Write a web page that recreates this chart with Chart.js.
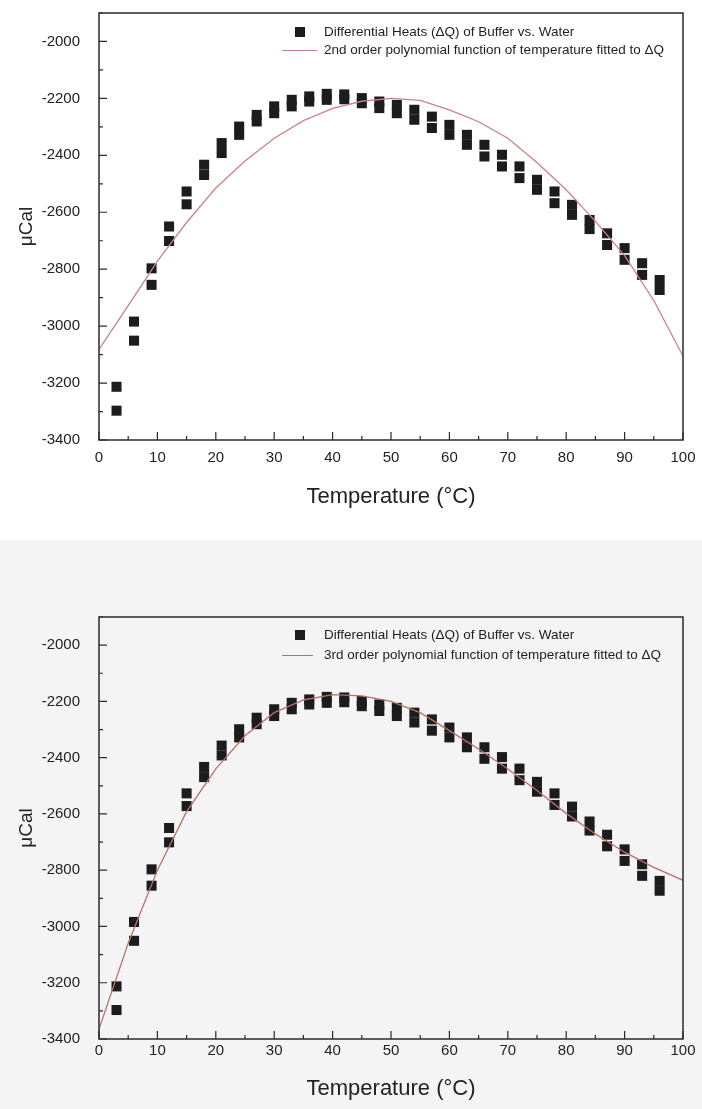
<!DOCTYPE html>
<html>
<head>
<meta charset="utf-8">
<script src="https://cdn.jsdelivr.net/npm/chart.js@4.4.1/dist/chart.umd.min.js"></script>
<style>
  html, body { margin: 0; padding: 0; background: #ffffff; }
  body { width: 702px; height: 1109px; position: relative; overflow: hidden;
         font-family: "Liberation Sans", Arial, sans-serif; }
  #topWrap { position: absolute; left: 0; top: 0; width: 702px; height: 540px; background: #ffffff; }
  #botWrap { position: absolute; left: 0; top: 540px; width: 702px; height: 569px; background: #f4f4f4; }
  canvas { position: absolute; left: 0; }
  .leg { position: absolute; font-size: 13.5px; color: #1e1e1e; white-space: nowrap; line-height: 16px; }
  .sq { position: absolute; width: 10px; height: 10px; background: #1c1c1c; }
  .ln { position: absolute; height: 1px; background: #c98482; }
</style>
</head>
<body>
<div id="topWrap"><canvas id="c1" width="702" height="520" style="top:0"></canvas></div>
<div id="botWrap"><canvas id="c2" width="702" height="549" style="top:20px"></canvas></div>

<!-- legend, top chart -->
<div class="sq" style="left:295px; top:27px"></div>
<div class="leg" style="left:324px; top:24px">Differential Heats (ΔQ) of Buffer vs. Water</div>
<div class="ln" style="left:282px; top:50px; width:35px"></div>
<div class="leg" style="left:324px; top:42px">2nd order polynomial function of temperature fitted to ΔQ</div>

<!-- legend, bottom chart -->
<div class="sq" style="left:295px; top:630px"></div>
<div class="leg" style="left:324px; top:627px">Differential Heats (ΔQ) of Buffer vs. Water</div>
<div class="ln" style="left:282px; top:655px; width:31px; background:#b8706a"></div>
<div class="leg" style="left:324px; top:647px">3rd order polynomial function of temperature fitted to ΔQ</div>

<script>
// ---- data ----
const temps = [3, 6, 9, 12, 15, 18, 21, 24, 27, 30, 33, 36, 39, 42, 45, 48,
               51, 54, 57, 60, 63, 66, 69, 72, 75, 78, 81, 84, 87, 90, 93, 96];
const heatsRunA = [-3213, -2984, -2797, -2650, -2527, -2433, -2357, -2299, -2258, -2228, -2205, -2193, -2184, -2186, -2199, -2211,
                   -2223, -2240, -2264, -2293, -2328, -2363, -2398, -2439, -2486, -2527, -2574, -2627, -2674, -2726, -2779, -2838];
const heatsRunB = [-3297, -3051, -2855, -2701, -2572, -2469, -2392, -2328, -2281, -2252, -2228, -2211, -2205, -2203, -2217, -2234,
                   -2252, -2275, -2304, -2328, -2363, -2404, -2439, -2480, -2521, -2568, -2609, -2659, -2715, -2767, -2820, -2873];
const fitTemps = [0, 5, 10, 15, 20, 25, 30, 35, 40, 45, 50, 55, 60, 65, 70, 75, 80, 85, 90, 95, 100];
const fit2nd = [-3082, -2928, -2772, -2636, -2515, -2420, -2340, -2278, -2235, -2210, -2200, -2207, -2240, -2282, -2340, -2425, -2521, -2632, -2752, -2910, -3105];
const fit3rd = [-3365, -3060, -2800, -2592, -2440, -2322, -2240, -2195, -2176, -2180, -2200, -2240, -2304, -2369, -2440, -2517, -2598, -2671, -2736, -2790, -2836];
const xTickLabels = [0, 10, 20, 30, 40, 50, 60, 70, 80, 90, 100];
const xMinorTicks = [5, 15, 25, 35, 45, 55, 65, 75, 85, 95];
const yTickLabels = [-3400, -3200, -3000, -2800, -2600, -2400, -2200, -2000];
const yMinorTicks = [-3300, -3100, -2900, -2700, -2500, -2300, -2100, -1900];

const FONT = '"Liberation Sans", Arial, sans-serif';

function pts(xs, ys) { return xs.map((x, i) => ({ x: x, y: ys[i] })); }

const framePlugin = {
  id: 'frame',
  afterDraw(chart) {
    const { ctx, chartArea: a, scales: { x, y } } = chart;
    ctx.save();
    ctx.strokeStyle = '#2a2a2a';
    ctx.lineWidth = 1.5;
    ctx.strokeRect(a.left, a.top, a.right - a.left, a.bottom - a.top);
    ctx.lineWidth = 1.2;
    ctx.beginPath();
    const tx = (v, len) => { const p = x.getPixelForValue(v); ctx.moveTo(p, a.bottom); ctx.lineTo(p, a.bottom - len); };
    const ty = (v, len) => { const p = y.getPixelForValue(v); ctx.moveTo(a.left, p); ctx.lineTo(a.left + len, p); };
    xTickLabels.forEach(v => tx(v, 8));
    xMinorTicks.forEach(v => tx(v, 4));
    yTickLabels.forEach(v => ty(v, 8));
    yMinorTicks.forEach(v => ty(v, 4));
    ctx.stroke();
    ctx.restore();
  }
};

function zeroPad(s) { s.paddingTop = 0; s.paddingBottom = 0; s.paddingLeft = 0; s.paddingRight = 0; }

function makeChart(id, fitValues, lineColor, cfg) {
  return new Chart(document.getElementById(id), {
    type: 'scatter',
    data: {
      datasets: [
        { label: 'fit', data: pts(fitTemps, fitValues), showLine: true, borderColor: lineColor,
          borderWidth: 1.3, pointRadius: 0, tension: 0, order: 0 },
        { label: 'Differential Heats (ΔQ) of Buffer vs. Water', data: pts(temps, heatsRunA),
          pointStyle: 'rect', pointRadius: 7.1, backgroundColor: '#1c1c1c', borderColor: '#1c1c1c', borderWidth: 0, order: 1 },
        { label: 'Differential Heats (ΔQ) of Buffer vs. Water (repeat)', data: pts(temps, heatsRunB),
          pointStyle: 'rect', pointRadius: 7.1, backgroundColor: '#1c1c1c', borderColor: '#1c1c1c', borderWidth: 0, order: 1 }
      ]
    },
    options: {
      responsive: false,
      animation: false,
      events: [],
      layout: { padding: { top: cfg.top, right: 19, left: 0, bottom: 0 } },
      plugins: { legend: { display: false }, tooltip: { enabled: false } },
      scales: {
        x: {
          type: 'linear', min: 0, max: 100,
          afterBuildTicks: s => { s.ticks = xTickLabels.map(v => ({ value: v })); },
          afterFit: s => { s.height = cfg.xHeight; zeroPad(s); },
          grid: { display: false, drawTicks: false, tickLength: 0 }, border: { display: false },
          ticks: { color: '#222', font: { family: FONT, size: 15 }, padding: cfg.xPad, maxRotation: 0, autoSkip: false,
                   callback: v => String(v) },
          title: { display: true, text: 'Temperature (°C)', color: '#222',
                   font: { family: FONT, size: 22 }, padding: { top: 0, bottom: cfg.titlePad } }
        },
        y: {
          type: 'linear', min: -3400, max: -1900,
          afterBuildTicks: s => { s.ticks = yTickLabels.map(v => ({ value: v })); },
          afterFit: s => { s.width = 99; zeroPad(s); },
          grid: { display: false, drawTicks: false, tickLength: 0 }, border: { display: false },
          ticks: { color: '#222', font: { family: FONT, size: 15 }, padding: 19, autoSkip: false,
                   callback: v => String(v) },
          title: { display: true, text: 'μCal', color: '#222',
                   font: { family: FONT, size: 19 }, padding: { top: 15, bottom: 0 } }
        }
      }
    },
    plugins: [framePlugin]
  });
}

makeChart('c1', fit2nd, '#c98482', { top: 13, xHeight: 80, xPad: 9, titlePad: 10 });
makeChart('c2', fit3rd, '#b8706a', { top: 57, xHeight: 70, xPad: 3, titlePad: 7 });
</script>
</body>
</html>
